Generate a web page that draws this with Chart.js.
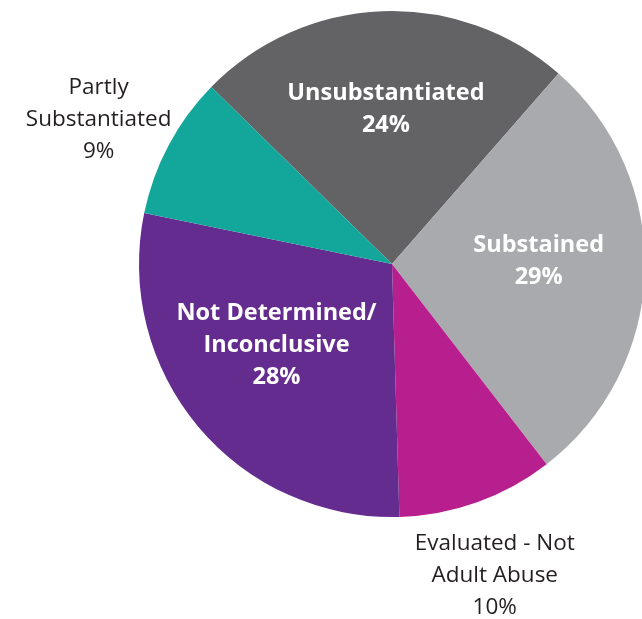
<!DOCTYPE html>
<html>
<head>
<meta charset="utf-8">
<script src="https://cdn.jsdelivr.net/npm/chart.js@4.4.1/dist/chart.umd.min.js"></script>
<style>
  html, body { margin: 0; padding: 0; background: #fff; overflow: hidden; }
  #wrap { position: relative; width: 650px; height: 619px; }
</style>
</head>
<body>
<div id="wrap"><canvas id="pieChart"></canvas></div>
<script>
// slice data (clockwise from the upper left edge)
const categories = [
  ['Unsubstantiated'],
  ['Substained'],
  ['Evaluated - Not', 'Adult Abuse'],
  ['Not Determined/', 'Inconclusive'],
  ['Partly', 'Substantiated']
];
const shares = [24.1, 28.1, 10.0, 28.7, 9.1];
const percentLabels = ['24%', '29%', '10%', '28%', '9%'];
const sliceColors = ['#636365', '#a9aaad', '#b71f8e', '#652c8f', '#13a79b'];

// label placement: fraction of radius along slice mid-angle, plus small nudges
const labelStyle = {
  radius: [0.62, 0.58, 1.30, 0.56, 1.30],
  nudgeX: [0, 0, -8, -7, -3],
  nudgeY: [2, -7, 2, -10, 10],
  inside: [true, true, false, true, false]
};

const sliceLabels = {
  id: 'sliceLabels',
  afterDatasetsDraw(chart) {
    const ctx = chart.ctx;
    const arcs = chart.getDatasetMeta(0).data;
    ctx.save();
    ctx.textAlign = 'center';
    ctx.textBaseline = 'middle';
    arcs.forEach((arc, i) => {
      const mid = (arc.startAngle + arc.endAngle) / 2;
      const r = arc.outerRadius * labelStyle.radius[i];
      const cx = arc.x + Math.cos(mid) * r + labelStyle.nudgeX[i];
      const cy = arc.y + Math.sin(mid) * r + labelStyle.nudgeY[i];
      const lines = categories[i].concat([percentLabels[i]]);
      const lh = 32;
      if (labelStyle.inside[i]) {
        ctx.fillStyle = '#ffffff';
        ctx.font = 'bold 23.5px "Open Sans", sans-serif';
      } else {
        ctx.fillStyle = '#231f20';
        ctx.font = '22.5px "Open Sans", sans-serif';
      }
      const top = cy - (lines.length - 1) * lh / 2;
      lines.forEach((t, k) => ctx.fillText(t, cx, top + k * lh));
    });
    ctx.restore();
  }
};

new Chart(document.getElementById('pieChart'), {
  type: 'pie',
  data: {
    labels: categories.map(c => c.join(' ')),
    datasets: [{
      data: shares,
      backgroundColor: sliceColors,
      borderWidth: 0
    }]
  },
  options: {
    responsive: true,
    maintainAspectRatio: false,
    animation: false,
    rotation: -45.6,
    layout: { padding: { left: 139, right: 5, top: 11, bottom: 102 } },
    plugins: {
      legend: { display: false },
      tooltip: { enabled: false }
    }
  },
  plugins: [sliceLabels]
});
</script>
</body>
</html>
